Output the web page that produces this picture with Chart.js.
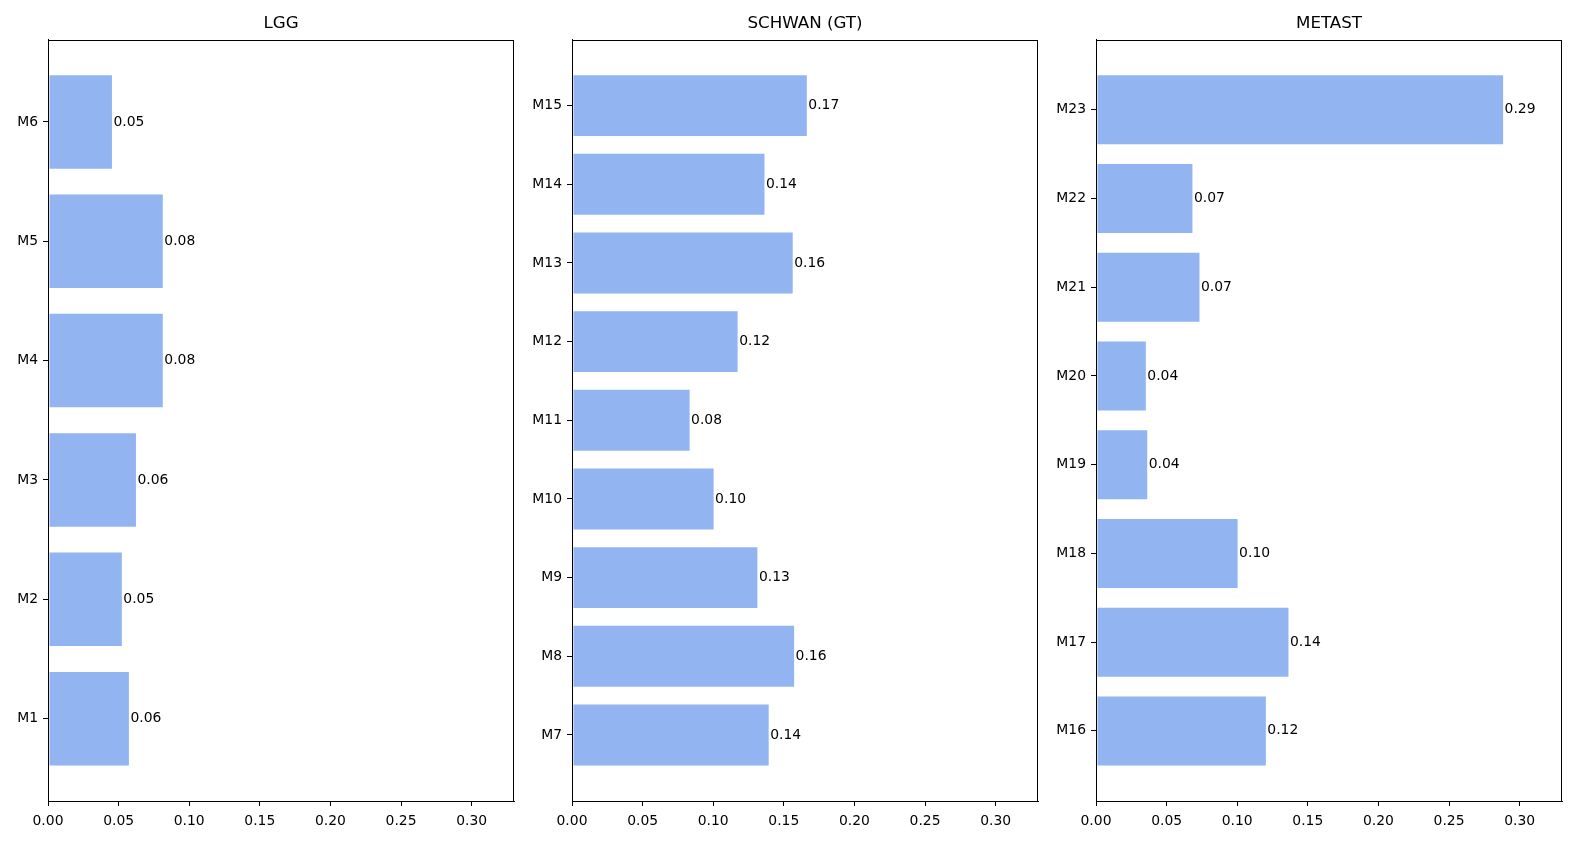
<!DOCTYPE html>
<html>
<head>
<meta charset="utf-8">
<script src="https://cdn.jsdelivr.net/npm/chart.js@4"></script>
<style>
  html, body { margin: 0; padding: 0; background: #fff; width: 1578px; height: 842px; overflow: hidden; }
  body { position: relative; }
  .panel { position: absolute; top: 0; width: 520px; height: 842px; overflow: hidden; }
  canvas { display: block; }
</style>
</head>
<body>
<div class="panel" style="left:0px"><canvas id="c1" width="520" height="842"></canvas></div>
<div class="panel" style="left:524px"><canvas id="c2" width="520" height="842"></canvas></div>
<div class="panel" style="left:1048px"><canvas id="c3" width="520" height="842"></canvas></div>
<script>
// ---- data ----
const titles = ["LGG", "SCHWAN (GT)", "METAST"];
const lggLabels = ["M1", "M2", "M3", "M4", "M5", "M6"];
const lggValues = [0.058, 0.053, 0.063, 0.082, 0.082, 0.046];
const schwanLabels = ["M7", "M8", "M9", "M10", "M11", "M12", "M13", "M14", "M15"];
const schwanValues = [0.140, 0.158, 0.132, 0.101, 0.084, 0.118, 0.157, 0.137, 0.167];
const metastLabels = ["M16", "M17", "M18", "M19", "M20", "M21", "M22", "M23"];
const metastValues = [0.121, 0.137, 0.101, 0.037, 0.036, 0.074, 0.069, 0.289];
const xTickValues = [0.00, 0.05, 0.10, 0.15, 0.20, 0.25, 0.30];
const xMax = 0.33;

const FONT = "'DejaVu Sans', sans-serif";
const TICK_SIZE = 13.9;

const valueLabelPlugin = {
  id: 'valueLabels',
  afterDatasetsDraw(chart) {
    const ctx = chart.ctx;
    const meta = chart.getDatasetMeta(0);
    const ds = chart.data.datasets[0];
    ctx.save();
    ctx.font = TICK_SIZE + "px " + FONT;
    ctx.fillStyle = '#000';
    ctx.textAlign = 'left';
    ctx.textBaseline = 'middle';
    meta.data.forEach((el, i) => {
      const v = ds.data[i].x;
      ctx.fillText(v.toFixed(2), el.x + 0.5, el.y);
    });
    ctx.restore();
  }
};

const framePlugin = {
  id: 'frame',
  afterDraw(chart) {
    const a = chart.chartArea;
    const ctx = chart.ctx;
    ctx.save();
    ctx.strokeStyle = '#000';
    ctx.lineWidth = 1;
    ctx.strokeRect(Math.round(a.left) + 0.5, Math.round(a.top) + 0.5,
                   Math.round(a.right - a.left) - 1, Math.round(a.bottom - a.top));
    ctx.restore();
  }
};

function makeChart(id, title, labels, values, yWidth, padRight) {
  const n = labels.length;
  const yMin = -0.4 - 0.05 * (n - 0.2);
  const yMax = (n - 1) + 0.4 + 0.05 * (n - 0.2);
  const pts = values.map((v, i) => ({ x: v, y: i }));
  new Chart(document.getElementById(id), {
    type: 'bar',
    data: {
      datasets: [{
        data: pts,
        backgroundColor: 'rgba(100,149,237,0.7)',
        borderColor: 'rgba(255,255,255,0.6)',
        borderWidth: 1,
        borderSkipped: false,
        barPercentage: 0.8,
        categoryPercentage: 1.0
      }]
    },
    options: {
      indexAxis: 'y',
      responsive: false,
      animation: false,
      devicePixelRatio: 1,
      layout: { padding: { left: 0, right: padRight, top: 0, bottom: 0 } },
      plugins: {
        legend: { display: false },
        tooltip: { enabled: false },
        title: {
          display: true,
          text: title,
          fullSize: false,
          color: '#000',
          font: { family: FONT, size: 16.7, weight: 'normal', lineHeight: 1.2 },
          padding: { top: 14, bottom: 5.5 }
        }
      },
      scales: {
        x: {
          type: 'linear',
          min: 0,
          max: xMax,
          afterBuildTicks(scale) { scale.ticks = xTickValues.map(v => ({ value: v })); },
          afterFit(scale) { scale.height = 41; },
          grid: { drawOnChartArea: false, drawTicks: true, tickLength: 5, color: '#000' },
          border: { display: true, color: '#000' },
          ticks: {
            color: '#000',
            font: { family: FONT, size: TICK_SIZE },
            padding: 7,
            maxRotation: 0,
            autoSkip: false,
            callback: v => Number(v).toFixed(2)
          }
        },
        y: {
          type: 'linear',
          min: yMin,
          max: yMax,
          offset: false,
          afterBuildTicks(scale) { scale.ticks = labels.map((_, i) => ({ value: i })); },
          afterFit(scale) { scale.width = yWidth; },
          grid: { offset: false, drawOnChartArea: false, drawTicks: true, tickLength: 5, color: '#000' },
          border: { display: true, color: '#000' },
          ticks: {
            color: '#000',
            font: { family: FONT, size: TICK_SIZE },
            padding: 5,
            autoSkip: false,
            callback: v => labels[Math.round(v)] ?? ''
          }
        }
      }
    },
    plugins: [valueLabelPlugin, framePlugin]
  });
}

makeChart('c1', titles[0], lggLabels, lggValues, 48, 6);
makeChart('c2', titles[1], schwanLabels, schwanValues, 48, 6);
makeChart('c3', titles[2], metastLabels, metastValues, 48, 6);
</script>
</body>
</html>
